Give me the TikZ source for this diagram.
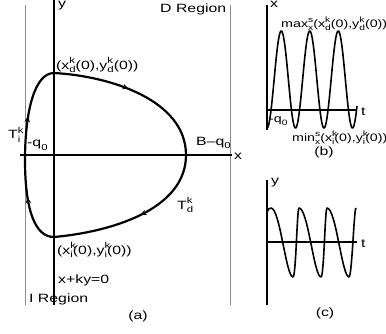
\documentclass[tikz,border=0pt]{standalone}
\usepackage{fontspec}
\setmainfont[FakeStretch=1.32]{Liberation Sans}
\usetikzlibrary{decorations.markings,arrows.meta}
\newcommand{\SupSub}[2]{\rlap{\raisebox{0.42em}{\fontsize{0.72em}{0.72em}\selectfont #1}}\raisebox{-0.3em}{\fontsize{0.72em}{0.72em}\selectfont #2}}
\newcommand{\SubOnly}[1]{\raisebox{-0.3em}{\fontsize{0.72em}{0.72em}\selectfont #1}}
\tikzset{
  lbl/.style={anchor=base west,inner sep=0pt,font=\fontsize{12}{14}\selectfont},
  lblsm/.style={anchor=base west,inner sep=0pt,font=\fontsize{10.8}{12}\selectfont},
  capt/.style={anchor=center,inner sep=0pt,font=\fontsize{12}{14}\selectfont},
  guide/.style={draw=black!45,line width=0.9pt},
  thickaxis/.style={draw=black,line width=2.2pt},
  thinaxis/.style={draw=black,line width=1.1pt},
  orbit/.style={draw=black,line width=2.2pt},
  wave/.style={draw=black,line width=1.6pt,line join=round},
  flow/.style={postaction={decorate},decoration={markings,mark=at position #1 with {\arrow{Stealth[length=6pt,width=5.5pt]}}}}
}
\begin{document}
\begin{tikzpicture}[x=1pt,y=1pt]
\useasboundingbox (0,0) rectangle (386,-333);
% ---------- (a) ----------
\draw[guide] (25,-5) -- (25,-305);
\draw[guide] (230,-5) -- (230,-305);
\draw[thinaxis] (20,-155) -- (232,-155);
\draw[thickaxis] (54,0) -- (54,-305);
\coordinate (A) at (54,-73);
\coordinate (R) at (186,-155);
\coordinate (B) at (54,-237);
\coordinate (L) at (25,-160);
\draw[orbit,flow=0.45] (A) .. controls (110,-76) and (186,-100) .. (R);
\draw[orbit,flow=0.47] (R) .. controls (186,-210) and (110,-232) .. (B);
\draw[orbit,flow=0.58] (B) .. controls (35,-237) and (25,-210) .. (L);
\draw[orbit,flow=0.45] (L) .. controls (25,-110) and (35,-73) .. (A);
\node[lbl] (ya) at (58,-7) {y};
\node[lbl] (dreg) at (160,-12.5) {D Region};
\node[lbl] (xd) at (56,-69) {(x\SupSub{k}{d}(0),y\SupSub{k}{d}(0))};
\node[lbl] (ti) at (8,-138.5) {T\SupSub{k}{i}};
\node[lbl] (qa) at (27,-146.7) {-q\SubOnly{0}};
\node[lbl] (bq) at (196,-145) {B–q\SubOnly{0}};
\node[lbl] (xa) at (234,-159.3) {x};
\node[lbl] (td) at (177,-209) {T\SupSub{k}{d}};
\node[lbl] (xi) at (57,-254) {(x\SupSub{k}{i}(0),y\SupSub{k}{i}(0))};
\node[lbl] (line) at (58,-283.5) {x+ky=0};
\node[lbl] (ireg) at (29,-302.7) {I Region};
\node[capt] (capa) at (138,-316) {(a)};
% ---------- (b) ----------
\draw[thinaxis] (267,-110) -- (357,-110);
\draw[wave] plot[domain=267:357,samples=200] (\x,{-(79.5+48.5*cos(12.6316*(\x-267)))});
\draw[thickaxis] (267,-5) -- (267,-130);
\node[lbl] (xb) at (270,-7) {x};
\node[lblsm] (maxl) at (281,-27.5) {max\SupSub{s}{x}(x\SupSub{k}{d}(0),y\SupSub{k}{d}(0))};
\node[lblsm] (qb) at (269,-122) {-q\SubOnly{0}};
\node[lblsm] (minl) at (292,-141) {min\SupSub{s}{x}(x\SupSub{k}{i}(0),y\SupSub{k}{i}(0))};
\node[lbl] (tb) at (361,-115) {t};
\node[capt] (capb) at (324,-152) {(b)};
% ---------- (c) ----------
\draw[thinaxis] (267,-242) -- (357,-242);
\draw[wave] (267,-213) .. controls (268,-209) and (269,-208) .. (271,-208)
  .. controls (280,-208) and (286,-277) .. (293,-277)
  .. controls (296,-277) and (297,-208) .. (299,-208)
  .. controls (308,-208) and (314,-277) .. (321,-277)
  .. controls (324,-277) and (325,-208) .. (327,-208)
  .. controls (336,-208) and (342,-277) .. (349,-277)
  .. controls (352,-277) and (354,-208) .. (356,-208);
\draw[thickaxis] (267,-180) -- (267,-305);
\node[lbl] (yc) at (271,-184) {y};
\node[lbl] (tc) at (361,-247) {t};
\node[capt] (capc) at (325,-313) {(c)};
\end{tikzpicture}
\end{document}
